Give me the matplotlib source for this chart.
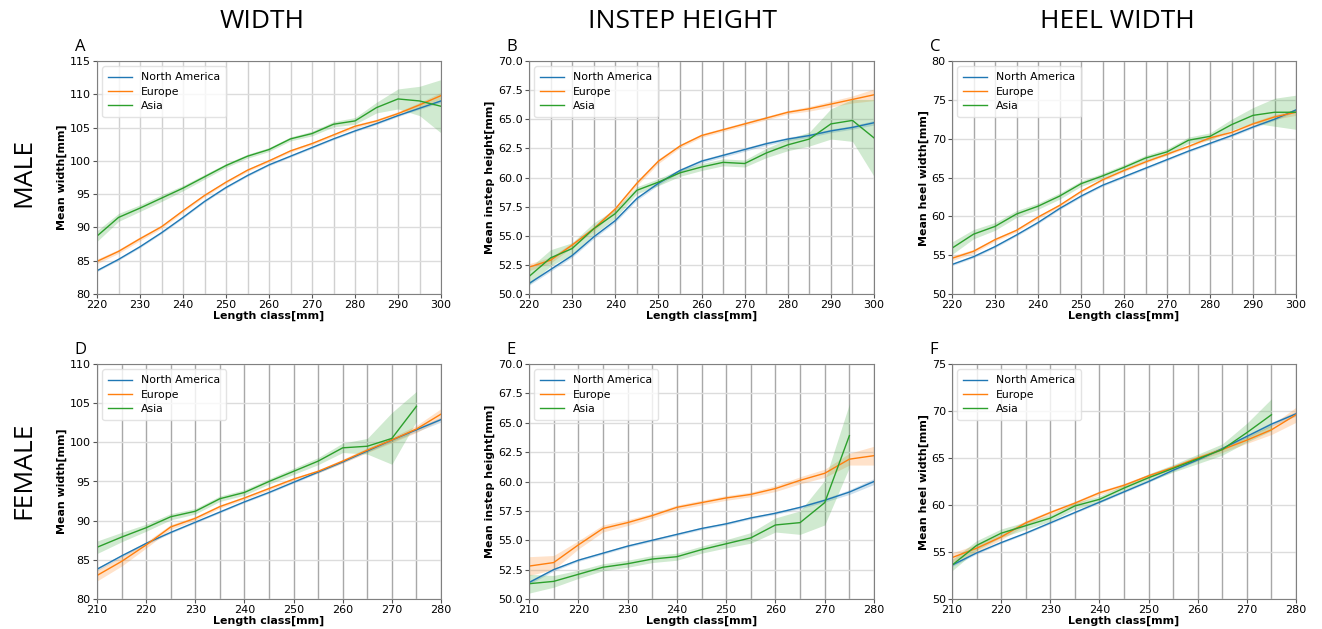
import numpy as np
import matplotlib

matplotlib.use("Agg")
import matplotlib.pyplot as plt


# ---- data -----------------------------------------------------------------
REGIONS = ["North America", "Europe", "Asia"]
COLOURS = ["#1f77b4", "#ff7f0e", "#2ca02c"]

male_x = [220, 225, 230, 235, 240, 245, 250, 255, 260, 265, 270, 275, 280, 285, 290, 295, 300]
female_x = [210, 215, 220, 225, 230, 235, 240, 245, 250, 255, 260, 265, 270, 275, 280]

# A: male width
a_na = [83.5, 85.2, 87.1, 89.2, 91.5, 93.9, 96.0, 97.8, 99.4, 100.7, 102.0, 103.3, 104.5, 105.6, 106.8, 107.9, 109.0]
a_eu = [84.9, 86.4, 88.3, 90.1, 92.5, 94.8, 96.8, 98.6, 100.0, 101.5, 102.6, 103.9, 105.2, 106.0, 107.1, 108.4, 109.8]
a_as = [88.7, 91.5, 92.9, 94.4, 95.9, 97.6, 99.3, 100.7, 101.7, 103.3, 104.1, 105.5, 106.0, 108.0, 109.3, 109.0, 108.2]
a_na_ci = [0.15] * 16 + [0.25]
a_eu_ci = [0.35, 0.3, 0.3, 0.25, 0.25, 0.2, 0.2, 0.2, 0.2, 0.2, 0.2, 0.2, 0.25, 0.25, 0.3, 0.35, 0.5]
a_as_ci = [0.8, 0.6, 0.5, 0.5, 0.4, 0.35, 0.3, 0.3, 0.3, 0.3, 0.35, 0.4, 0.5, 0.8, 1.5, 2.2, 4.0]

# B: male instep height
b_na = [50.9, 52.1, 53.3, 54.9, 56.3, 58.2, 59.5, 60.6, 61.4, 61.9, 62.4, 62.9, 63.3, 63.6, 64.0, 64.3, 64.7]
b_eu = [52.3, 52.9, 54.2, 55.6, 57.3, 59.5, 61.4, 62.7, 63.6, 64.1, 64.6, 65.1, 65.6, 65.9, 66.3, 66.7, 67.1]
b_as = [51.5, 53.1, 53.9, 55.6, 56.9, 58.9, 59.6, 60.4, 60.9, 61.3, 61.2, 62.1, 62.8, 63.3, 64.6, 64.9, 63.4]
b_na_ci = [0.15] * 16 + [0.2]
b_eu_ci = [0.3, 0.25, 0.2, 0.2, 0.2, 0.2, 0.2, 0.15, 0.15, 0.15, 0.15, 0.15, 0.15, 0.2, 0.25, 0.3, 0.5]
b_as_ci = [0.7, 0.7, 0.5, 0.5, 0.4, 0.3, 0.3, 0.3, 0.3, 0.3, 0.3, 0.4, 0.5, 0.6, 1.3, 1.8, 3.3]

# C: male heel width
c_na = [53.8, 54.8, 56.1, 57.6, 59.2, 61.0, 62.6, 64.0, 65.1, 66.2, 67.3, 68.4, 69.4, 70.4, 71.5, 72.5, 73.7]
c_eu = [54.6, 55.5, 57.0, 58.2, 59.9, 61.4, 63.2, 64.7, 65.9, 67.0, 68.0, 69.0, 70.1, 70.8, 71.9, 72.8, 73.4]
c_as = [55.9, 57.7, 58.7, 60.3, 61.3, 62.6, 64.2, 65.2, 66.3, 67.5, 68.3, 69.8, 70.3, 71.8, 73.0, 73.4, 73.4]
c_na_ci = [0.15] * 16 + [0.2]
c_eu_ci = [0.3, 0.25, 0.2, 0.2, 0.2, 0.2, 0.15, 0.15, 0.15, 0.15, 0.15, 0.15, 0.2, 0.2, 0.25, 0.3, 0.4]
c_as_ci = [0.8, 0.6, 0.5, 0.45, 0.4, 0.4, 0.35, 0.35, 0.35, 0.35, 0.4, 0.4, 0.45, 0.7, 1.0, 1.8, 2.2]

# D: female width
d_na = [83.8, 85.5, 87.1, 88.5, 89.8, 91.1, 92.4, 93.6, 94.9, 96.2, 97.5, 98.9, 100.3, 101.6, 102.9]
d_eu = [83.0, 84.8, 86.9, 89.2, 90.3, 91.8, 92.9, 94.1, 95.3, 96.3, 97.6, 99.0, 100.3, 101.7, 103.6]
d_as = [86.6, 87.9, 89.1, 90.5, 91.2, 92.8, 93.6, 95.0, 96.3, 97.6, 99.3, 99.5, 100.5, 104.6]
d_na_ci = [0.2, 0.15, 0.15, 0.12, 0.12, 0.12, 0.12, 0.12, 0.12, 0.12, 0.12, 0.15, 0.2, 0.25, 0.3]
d_eu_ci = [0.7, 0.6, 0.4, 0.3, 0.25, 0.2, 0.2, 0.2, 0.2, 0.2, 0.25, 0.3, 0.35, 0.45, 0.7]
d_as_ci = [0.8, 0.6, 0.45, 0.4, 0.35, 0.35, 0.35, 0.35, 0.4, 0.45, 0.6, 1.0, 3.3, 1.9]

# E: female instep height
e_na = [51.4, 52.5, 53.3, 53.9, 54.5, 55.0, 55.5, 56.0, 56.4, 56.9, 57.3, 57.8, 58.4, 59.1, 60.0]
e_eu = [52.8, 53.1, 54.6, 56.0, 56.5, 57.1, 57.8, 58.2, 58.6, 58.9, 59.4, 60.1, 60.7, 61.9, 62.2]
e_as = [51.3, 51.5, 52.1, 52.7, 53.0, 53.4, 53.6, 54.2, 54.7, 55.2, 56.3, 56.5, 58.2, 63.9]
e_na_ci = [0.15, 0.12, 0.1, 0.1, 0.1, 0.1, 0.1, 0.1, 0.1, 0.1, 0.1, 0.12, 0.15, 0.2, 0.25]
e_eu_ci = [0.8, 0.6, 0.35, 0.3, 0.25, 0.2, 0.2, 0.2, 0.2, 0.2, 0.25, 0.3, 0.35, 0.5, 0.8]
e_as_ci = [0.8, 0.5, 0.35, 0.3, 0.3, 0.3, 0.3, 0.3, 0.35, 0.45, 0.6, 1.0, 1.9, 2.7]

# F: female heel width
f_na = [53.6, 54.9, 56.0, 57.0, 58.1, 59.2, 60.3, 61.4, 62.5, 63.7, 64.8, 66.0, 67.3, 68.6, 69.7]
f_eu = [54.4, 55.4, 56.6, 58.1, 59.2, 60.2, 61.3, 62.1, 63.1, 64.0, 65.0, 65.9, 66.9, 68.0, 69.6]
f_as = [53.6, 55.7, 57.0, 57.8, 58.6, 59.9, 60.6, 61.8, 62.9, 63.9, 64.9, 65.9, 67.7, 69.6]
f_na_ci = [0.15, 0.12, 0.1, 0.1, 0.1, 0.1, 0.1, 0.1, 0.1, 0.1, 0.1, 0.12, 0.15, 0.2, 0.25]
f_eu_ci = [0.5, 0.4, 0.3, 0.25, 0.2, 0.2, 0.2, 0.2, 0.2, 0.2, 0.25, 0.3, 0.35, 0.5, 0.8]
f_as_ci = [0.6, 0.5, 0.45, 0.4, 0.35, 0.35, 0.35, 0.35, 0.4, 0.4, 0.5, 0.6, 1.0, 1.7]

PANELS = [
    # letter, x, series, ci, ylabel, ylim, yticks, tick format
    ("A", male_x, (a_na, a_eu, a_as), (a_na_ci, a_eu_ci, a_as_ci), "Mean width[mm]", (80, 115), np.arange(80, 116, 5), "%d"),
    ("B", male_x, (b_na, b_eu, b_as), (b_na_ci, b_eu_ci, b_as_ci), "Mean instep height[mm]", (50, 70), np.arange(50, 70.1, 2.5), "%.1f"),
    ("C", male_x, (c_na, c_eu, c_as), (c_na_ci, c_eu_ci, c_as_ci), "Mean heel width[mm]", (50, 80), np.arange(50, 81, 5), "%d"),
    ("D", female_x, (d_na, d_eu, d_as), (d_na_ci, d_eu_ci, d_as_ci), "Mean width[mm]", (80, 110), np.arange(80, 111, 5), "%d"),
    ("E", female_x, (e_na, e_eu, e_as), (e_na_ci, e_eu_ci, e_as_ci), "Mean instep height[mm]", (50, 70), np.arange(50, 70.1, 2.5), "%.1f"),
    ("F", female_x, (f_na, f_eu, f_as), (f_na_ci, f_eu_ci, f_as_ci), "Mean heel width[mm]", (50, 75), np.arange(50, 76, 5), "%d"),
]

COLUMN_TITLES = ["WIDTH", "INSTEP HEIGHT", "HEEL WIDTH"]
ROW_TITLES = ["MALE", "FEMALE"]

# axes boxes in pixels (left, right) per column, (top, bottom) per row
W, H = 1322, 629
COL_PX = [(97, 441), (529, 874), (952, 1296)]
ROW_PX = [(61, 294), (364, 599)]


def main():
    fig = plt.figure(figsize=(W / 100, H / 100), dpi=100)
    title_font = ["Open Sans", "DejaVu Sans"]

    for idx, (letter, x, series, cis, ylabel, ylim, yticks, fmt) in enumerate(PANELS):
        row, col = divmod(idx, 3)
        left, right = COL_PX[col]
        top, bottom = ROW_PX[row]
        ax = fig.add_axes([left / W, 1 - bottom / H, (right - left) / W, (bottom - top) / H])

        for name, colour, ys, ci in zip(REGIONS, COLOURS, series, cis):
            xs = np.array(x[: len(ys)])
            ys = np.array(ys)
            ci = np.array(ci)
            ax.fill_between(xs, ys - ci, ys + ci, color=colour, alpha=0.22, linewidth=0)
            ax.plot(xs, ys, color=colour, linewidth=1.0, label=name)

        # panel A uses the light grid colour for its length-class lines
        vline_colour = "#d0d0d0" if letter == "A" else "#a8a8a8"
        for xv in x:
            ax.axvline(xv, color=vline_colour, linewidth=1.0, zorder=0)
        ax.grid(True, axis="y", color="#dcdcdc", linewidth=1.0, zorder=0)
        ax.set_axisbelow(True)

        ax.set_xlim(x[0], x[-1])
        ax.set_xticks(x[::2])
        ax.set_ylim(*ylim)
        ax.set_yticks(yticks)
        ax.yaxis.set_major_formatter(matplotlib.ticker.FormatStrFormatter(fmt))
        ax.tick_params(labelsize=8, length=3, color="#555555", pad=1.5)
        for spine in ax.spines.values():
            spine.set_color("#808080")

        ax.set_xlabel("Length class[mm]", fontsize=7.9, fontweight="bold", labelpad=0)
        ax.set_ylabel(ylabel, fontsize=7.9, fontweight="bold", labelpad=2)
        ax.legend(loc="upper left", fontsize=7.8, framealpha=0.8, edgecolor="#dddddd",
                  handlelength=2.2, borderpad=0.55, labelspacing=0.4)
        ax.text(-0.065, 1.025, letter, transform=ax.transAxes, fontsize=12,
                family=title_font, ha="left", va="bottom")

    centres = [262, 682, 1117]
    for text, cx in zip(COLUMN_TITLES, centres):
        fig.text(cx / W, 1 - 22 / H, text, fontsize=19, family=title_font,
                 ha="center", va="center")
    for text, cy in zip(ROW_TITLES, [172, 470]):
        fig.text(24 / W, 1 - cy / H, text, fontsize=19, family=title_font,
                 rotation=90, ha="center", va="center")

    fig.savefig("out.png", dpi=100, facecolor="white")
    plt.close(fig)


if __name__ == "__main__":
    main()
